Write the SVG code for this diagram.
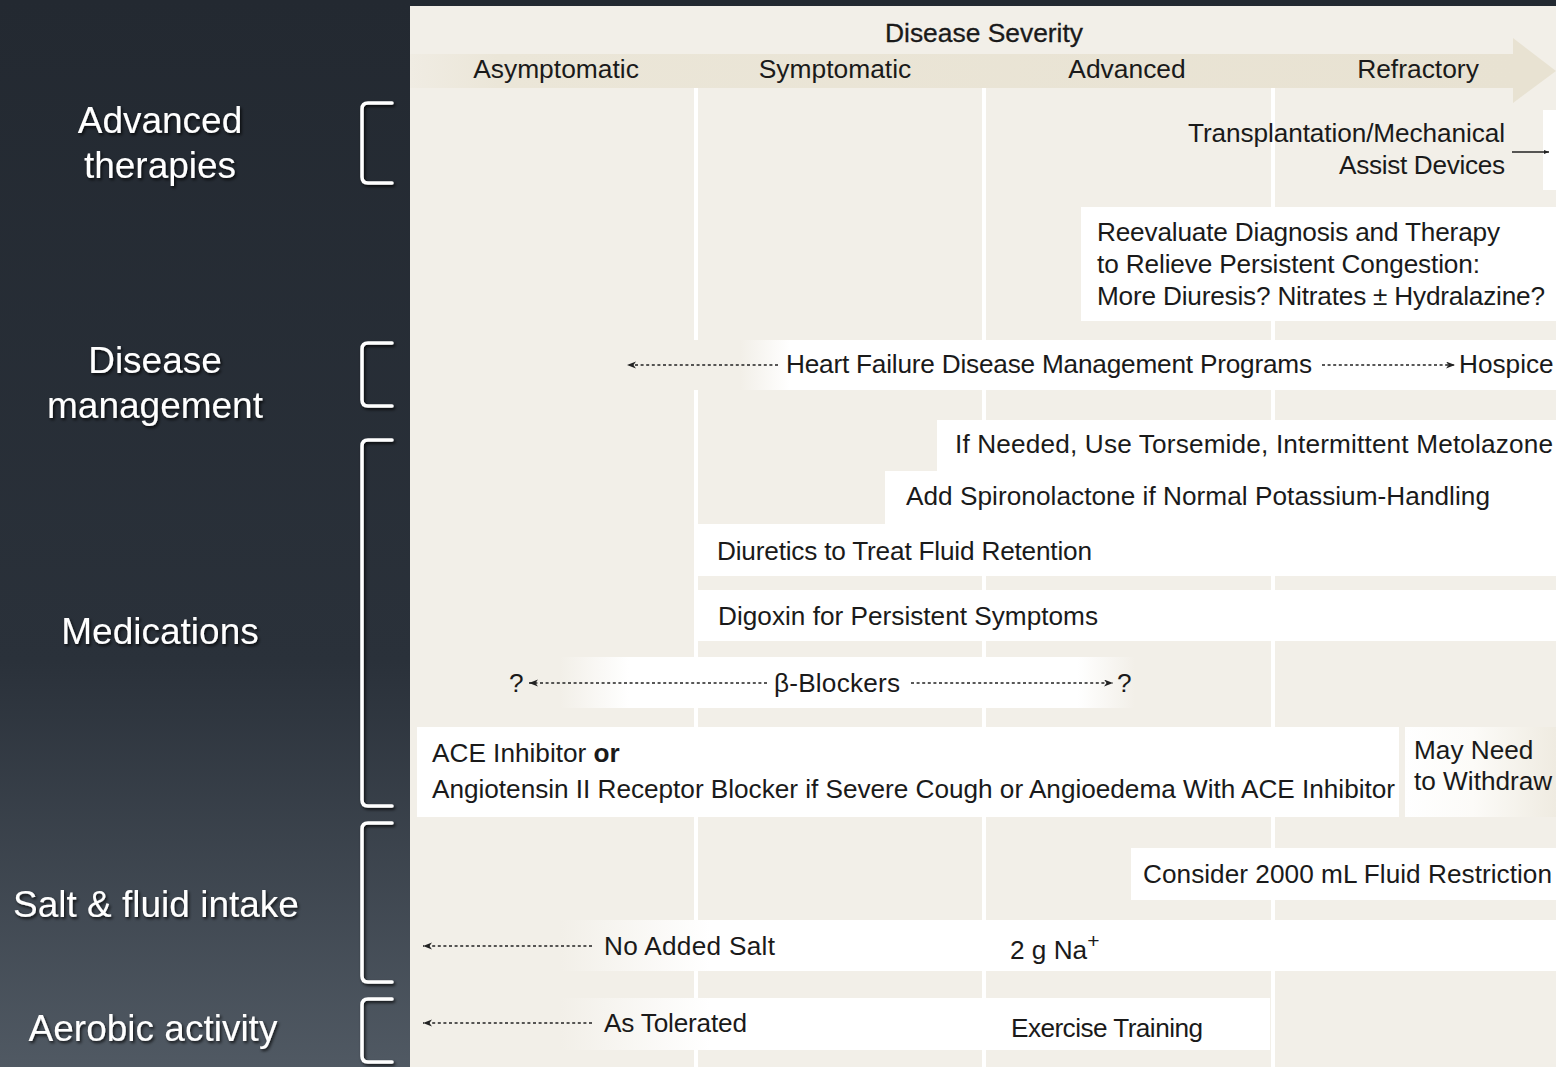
<svg xmlns="http://www.w3.org/2000/svg" width="1556" height="1067" viewBox="0 0 1556 1067">
<defs>
<linearGradient id="bg" x1="0" y1="0" x2="0" y2="1">
<stop offset="0" stop-color="#232931"/>
<stop offset="0.62" stop-color="#2a313a"/>
<stop offset="1" stop-color="#505963"/>
</linearGradient>
<linearGradient id="fadeL" x1="0" y1="0" x2="1" y2="0">
<stop offset="0" stop-color="#f2efe8"/>
<stop offset="1" stop-color="#ffffff"/>
</linearGradient>
<linearGradient id="fadeB" x1="0" y1="0" x2="1" y2="0">
<stop offset="0" stop-color="#f2efe8"/>
<stop offset="0.12" stop-color="#ffffff"/>
<stop offset="0.9" stop-color="#ffffff"/>
<stop offset="1" stop-color="#f2efe8"/>
</linearGradient>
<linearGradient id="fadeR" x1="0" y1="0" x2="1" y2="0">
<stop offset="0" stop-color="#ffffff"/>
<stop offset="0.45" stop-color="#fcfbf8"/>
<stop offset="1" stop-color="#efebe1"/>
</linearGradient>
<linearGradient id="band" x1="0" y1="0" x2="1" y2="0">
<stop offset="0" stop-color="#f0ece3"/>
<stop offset="0.08" stop-color="#ebe6d8"/>
<stop offset="1" stop-color="#e8e2d2"/>
</linearGradient>
<filter id="sh" x="-10%" y="-20%" width="130%" height="160%">
<feDropShadow dx="1.5" dy="2" stdDeviation="1.6" flood-color="#000" flood-opacity="0.75"/>
</filter>
<marker id="ah" markerWidth="11" markerHeight="8" refX="9" refY="3.5" orient="auto" markerUnits="userSpaceOnUse">
<path d="M0,0 L9,3.5 L0,7 L2.5,3.5 Z" fill="#222"/>
</marker>
<marker id="ah2" markerWidth="8" markerHeight="6" refX="5" refY="2" orient="auto" markerUnits="userSpaceOnUse">
<path d="M0,0 L5,2 L0,4 Z" fill="#222"/>
</marker>
</defs>
<style>
.lbl{font-family:"Liberation Sans",Arial,Helvetica,sans-serif;font-size:37px;fill:#ffffff;text-anchor:middle}
.brk{fill:none;stroke:#ffffff;stroke-width:3.5;stroke-linecap:round}
.t{font-family:"Liberation Sans",Arial,Helvetica,sans-serif;font-size:26.2px;fill:#1a1a1a}
.h{font-family:"Liberation Sans",Arial,Helvetica,sans-serif;font-size:26.4px;fill:#1a1a1a;text-anchor:middle}
.box{fill:#ffffff}
.vl{fill:#ffffff}
.dash{fill:none;stroke:#222;stroke-width:1.6;stroke-dasharray:3 2.6;marker-end:url(#ah)}
</style>

<rect x="0" y="0" width="1556" height="1067" fill="url(#bg)"/>
<rect x="410" y="6" width="1146" height="1061" fill="#f2efe8"/>

<g id="header">
<rect x="410" y="54" width="1104" height="34" fill="url(#band)"/>
<polygon points="1513,38 1556,71 1513,103" fill="#e8e2d2"/>
<text class="h" x="984" y="42" stroke="#1a1a1a" stroke-width="0.3">Disease Severity</text>
<text class="h" x="556" y="78">Asymptomatic</text>
<text class="h" x="835" y="78">Symptomatic</text>
<text class="h" x="1127" y="78">Advanced</text>
<text class="h" x="1418" y="78">Refractory</text>
</g>

<g id="grid">
<rect class="vl" x="694" y="88" width="4" height="979"/>
<rect class="vl" x="982" y="88" width="4" height="979"/>
<rect class="vl" x="1271" y="88" width="4" height="979"/>
</g>

<g id="left-labels">
<g id="lbl-advanced" filter="url(#sh)">
<text class="lbl" x="160" y="133">Advanced</text>
<text class="lbl" x="160" y="178">therapies</text>
<path class="brk" d="M392,103 L368,103 Q362,103 362,109 L362,177 Q362,183 368,183 L392,183"/>
</g>
<g id="lbl-disease" filter="url(#sh)">
<text class="lbl" x="155" y="373">Disease</text>
<text class="lbl" x="155" y="418">management</text>
<path class="brk" d="M392,343 L368,343 Q362,343 362,349 L362,400 Q362,406 368,406 L392,406"/>
</g>
<g id="lbl-medications" filter="url(#sh)">
<text class="lbl" x="160" y="644">Medications</text>
<path class="brk" d="M392,440 L368,440 Q362,440 362,446 L362,800 Q362,806 368,806 L392,806"/>
</g>
<g id="lbl-salt" filter="url(#sh)">
<text class="lbl" x="156" y="917">Salt &amp; fluid intake</text>
<path class="brk" d="M392,823 L368,823 Q362,823 362,829 L362,976 Q362,982 368,982 L392,982"/>
</g>
<g id="lbl-aerobic" filter="url(#sh)">
<text class="lbl" x="153" y="1041">Aerobic activity</text>
<path class="brk" d="M392,999 L368,999 Q362,999 362,1005 L362,1056 Q362,1062 368,1062 L392,1062"/>
</g>
</g>

<g id="transplant">
<rect class="box" x="1543" y="110" width="13" height="80"/>
<text class="t" x="1188" y="142" textLength="317">Transplantation/Mechanical</text>
<text class="t" x="1339" y="174" textLength="166">Assist Devices</text>
</g>

<g id="reevaluate">
<rect class="box" x="1081" y="207" width="475" height="114"/>
<text class="t" x="1097" y="241" textLength="403">Reevaluate Diagnosis and Therapy</text>
<text class="t" x="1097" y="273" textLength="383">to Relieve Persistent Congestion:</text>
<text class="t" x="1097" y="305" textLength="448">More Diuresis? Nitrates ± Hydralazine?</text>
</g>

<g id="hf-programs">
<rect x="600" y="340" width="140" height="50" fill="#f2efe8"/>
<rect x="740" y="340" width="50" height="50" fill="url(#fadeL)"/>
<rect class="box" x="789" y="340" width="767" height="50"/>
<text class="t" x="786" y="373" textLength="526">Heart Failure Disease Management Programs</text>
<text class="t" x="1459" y="373">Hospice</text>
</g>

<g id="torsemide">
<rect class="box" x="937" y="420" width="619" height="52"/>
<text class="t" x="955" y="453" textLength="598">If Needed, Use Torsemide, Intermittent Metolazone</text>
</g>

<g id="spironolactone">
<rect class="box" x="885" y="471" width="671" height="55"/>
<text class="t" x="906" y="505" textLength="584">Add Spironolactone if Normal Potassium-Handling</text>
</g>

<g id="diuretics">
<rect class="box" x="698" y="524" width="858" height="52"/>
<text class="t" x="717" y="560" textLength="375">Diuretics to Treat Fluid Retention</text>
</g>

<g id="digoxin">
<rect class="box" x="698" y="590" width="858" height="51"/>
<text class="t" x="718" y="625" textLength="380">Digoxin for Persistent Symptoms</text>
</g>

<g id="beta-blockers">
<rect x="560" y="657" width="575" height="51" fill="url(#fadeB)"/>
<text class="t" x="509" y="692">?</text>
<text class="t" x="774" y="692" textLength="126">β-Blockers</text>
<text class="t" x="1117" y="692">?</text>
</g>

<g id="ace">
<rect class="box" x="417" y="727" width="982" height="90"/>
<text class="t" x="432" y="762">ACE Inhibitor <tspan font-weight="bold">or</tspan></text>
<text class="t" x="432" y="798" textLength="963">Angiotensin II Receptor Blocker if Severe Cough or Angioedema With ACE Inhibitor</text>
</g>

<g id="withdraw">
<rect x="1405" y="727" width="151" height="90" fill="url(#fadeR)"/>
<text class="t" x="1414" y="759">May Need</text>
<text class="t" x="1414" y="790">to Withdraw</text>
</g>

<g id="fluid-restriction">
<rect class="box" x="1131" y="848" width="425" height="52"/>
<text class="t" x="1143" y="883" textLength="409">Consider 2000 mL Fluid Restriction</text>
</g>

<g id="salt">
<rect x="560" y="920" width="150" height="51" fill="url(#fadeL)"/>
<rect class="box" x="709" y="920" width="847" height="51"/>
<text class="t" x="604" y="955" textLength="171">No Added Salt</text>
<text class="t" x="1010" y="959">2 g Na<tspan dy="-11" font-size="21">+</tspan></text>
</g>

<g id="aerobic">
<rect x="560" y="998" width="150" height="52" fill="url(#fadeL)"/>
<rect class="box" x="709" y="998" width="561" height="52"/>
<text class="t" x="604" y="1032" textLength="143">As Tolerated</text>
<text class="t" x="1011" y="1037" textLength="192">Exercise Training</text>
</g>

<g id="connectors">
<line class="dash" x1="778" y1="365" x2="627" y2="365"/>
<line class="dash" x1="1322" y1="365" x2="1455" y2="365"/>
<line class="dash" x1="767" y1="683" x2="529" y2="683"/>
<line class="dash" x1="911" y1="683" x2="1113" y2="683"/>
<line class="dash" x1="592" y1="946" x2="423" y2="946"/>
<line class="dash" x1="592" y1="1023" x2="423" y2="1023"/>
<line x1="1512" y1="152" x2="1549" y2="152" stroke="#222" stroke-width="1.3" marker-end="url(#ah2)"/>
</g>
</svg>
